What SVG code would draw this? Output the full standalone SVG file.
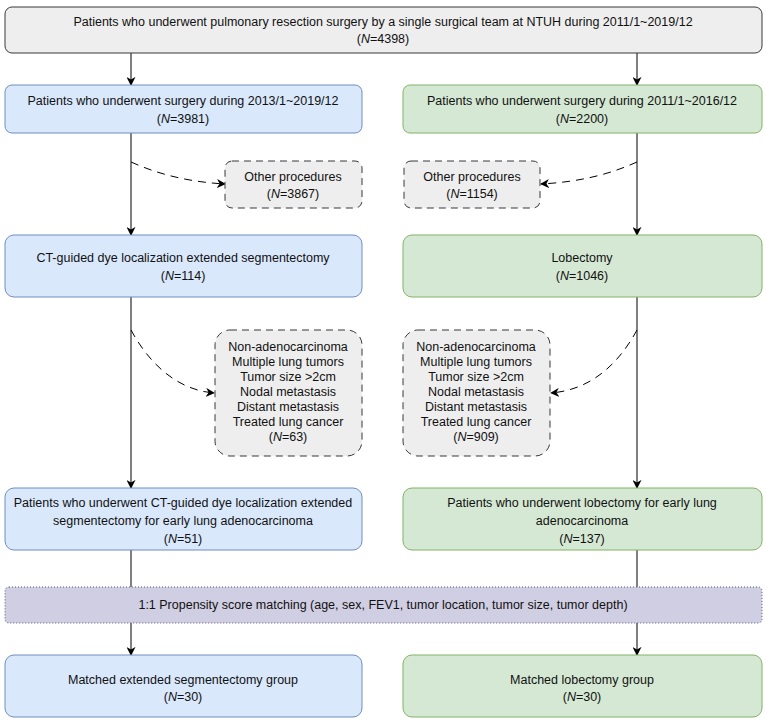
<svg xmlns="http://www.w3.org/2000/svg" width="766" height="722" viewBox="0 0 766 722">
<defs>
<marker id="arr" viewBox="0 0 10 10" refX="9" refY="5" markerWidth="9" markerHeight="9" markerUnits="userSpaceOnUse" orient="auto">
<path d="M0,0 L10,5 L0,10 L3,5 z" fill="#000"/>
</marker>
<style>
text{font-family:"Liberation Sans",Arial,sans-serif;font-size:12.5px;fill:#111;text-anchor:middle}
.i{font-style:italic}
.gray{fill:#eeeeee;stroke:#36393d;stroke-width:1}
.dash{fill:#eeeeee;stroke:#36393d;stroke-width:1;stroke-dasharray:7,5}
.blue{fill:#dae8fc;stroke:#6c8ebf;stroke-width:1}
.green{fill:#d5e8d4;stroke:#82b366;stroke-width:1}
.purple{fill:#d0cee2;stroke:#56517e;stroke-width:1;stroke-dasharray:1,2}
.ln{fill:none;stroke:#000;stroke-width:1}
.dl{fill:none;stroke:#000;stroke-width:1;stroke-dasharray:8,6}
</style>
</defs>
<rect width="766" height="722" fill="#fff"/>
<g id="connectors">
<line class="ln" x1="131" y1="53" x2="131" y2="85" marker-end="url(#arr)"/>
<line class="ln" x1="637" y1="53" x2="637" y2="85" marker-end="url(#arr)"/>
<line class="ln" x1="131" y1="133" x2="131" y2="235" marker-end="url(#arr)"/>
<line class="ln" x1="637" y1="133" x2="637" y2="235" marker-end="url(#arr)"/>
<line class="ln" x1="131" y1="297" x2="131" y2="488" marker-end="url(#arr)"/>
<line class="ln" x1="637" y1="297" x2="637" y2="488" marker-end="url(#arr)"/>
<line class="ln" x1="131" y1="550" x2="131" y2="587"/>
<line class="ln" x1="637" y1="550" x2="637" y2="587"/>
<line class="ln" x1="131" y1="623" x2="131" y2="655" marker-end="url(#arr)"/>
<line class="ln" x1="637" y1="623" x2="637" y2="655" marker-end="url(#arr)"/>
<path class="dl" d="M131,162 C160,175 190,182 225,184" marker-end="url(#arr)"/>
<path class="dl" d="M637,162 C608,175 578,182 541,184" marker-end="url(#arr)"/>
<path class="dl" d="M131,330 C150,365 178,390 214,393" marker-end="url(#arr)"/>
<path class="dl" d="M637,330 C618,365 590,390 551,393" marker-end="url(#arr)"/>
</g>
<g id="n_top">
<rect class="gray" x="5" y="7" width="757" height="46" rx="7"/>
<text x="383" y="25.5">Patients who underwent pulmonary resection surgery by a single surgical team at NTUH during 2011/1~2019/12</text>
<text x="383" y="43">(<tspan class="i">N</tspan>=4398)</text>
</g>
<g id="n_blue1">
<rect class="blue" x="5" y="85" width="357" height="48" rx="7"/>
<text x="183" y="105">Patients who underwent surgery during 2013/1~2019/12</text>
<text x="183" y="123">(<tspan class="i">N</tspan>=3981)</text>
</g>
<g id="n_green1">
<rect class="green" x="403" y="85" width="359" height="48" rx="7"/>
<text x="582" y="105">Patients who underwent surgery during 2011/1~2016/12</text>
<text x="582" y="123">(<tspan class="i">N</tspan>=2200)</text>
</g>
<g id="n_other_l">
<rect class="dash" x="225" y="161" width="137" height="47" rx="7"/>
<text x="293" y="181">Other procedures</text>
<text x="293" y="197.5">(<tspan class="i">N</tspan>=3867)</text>
</g>
<g id="n_other_r">
<rect class="dash" x="404" y="161" width="136" height="47" rx="7"/>
<text x="472" y="181">Other procedures</text>
<text x="472" y="197.5">(<tspan class="i">N</tspan>=1154)</text>
</g>
<g id="n_blue2">
<rect class="blue" x="5" y="235" width="357" height="62" rx="9"/>
<text x="183" y="262">CT-guided dye localization extended segmentectomy</text>
<text x="183" y="279.5">(<tspan class="i">N</tspan>=114)</text>
</g>
<g id="n_green2">
<rect class="green" x="403" y="235" width="359" height="62" rx="9"/>
<text x="582" y="262">Lobectomy</text>
<text x="582" y="279.5">(<tspan class="i">N</tspan>=1046)</text>
</g>
<g id="n_excl_l">
<rect class="dash" x="215" y="330" width="147" height="126" rx="15"/>
<text x="288" y="351">Non-adenocarcinoma</text>
<text x="288" y="366">Multiple lung tumors</text>
<text x="288" y="381">Tumor size &gt;2cm</text>
<text x="288" y="396">Nodal metastasis</text>
<text x="288" y="411">Distant metastasis</text>
<text x="288" y="426">Treated lung cancer</text>
<text x="288" y="441">(<tspan class="i">N</tspan>=63)</text>
</g>
<g id="n_excl_r">
<rect class="dash" x="403" y="330" width="147" height="126" rx="15"/>
<text x="476" y="351">Non-adenocarcinoma</text>
<text x="476" y="366">Multiple lung tumors</text>
<text x="476" y="381">Tumor size &gt;2cm</text>
<text x="476" y="396">Nodal metastasis</text>
<text x="476" y="411">Distant metastasis</text>
<text x="476" y="426">Treated lung cancer</text>
<text x="476" y="441">(<tspan class="i">N</tspan>=909)</text>
</g>
<g id="n_blue3">
<rect class="blue" x="5" y="488" width="357" height="62" rx="9"/>
<text x="183" y="506.5">Patients who underwent CT-guided dye localization extended</text>
<text x="183" y="524.5">segmentectomy for early lung adenocarcinoma</text>
<text x="183" y="542.5">(<tspan class="i">N</tspan>=51)</text>
</g>
<g id="n_green3">
<rect class="green" x="403" y="488" width="359" height="62" rx="9"/>
<text x="582" y="506.5">Patients who underwent lobectomy for early lung</text>
<text x="582" y="524.5">adenocarcinoma</text>
<text x="582" y="542.5">(<tspan class="i">N</tspan>=137)</text>
</g>
<g id="n_psm">
<rect class="purple" x="5" y="587" width="757" height="36" rx="4"/>
<text x="383" y="609">1:1 Propensity score matching (age, sex, FEV1, tumor location, tumor size, tumor depth)</text>
</g>
<g id="n_blue4">
<rect class="blue" x="5" y="655" width="357" height="62" rx="9"/>
<text x="183" y="684">Matched extended segmentectomy group</text>
<text x="183" y="701">(<tspan class="i">N</tspan>=30)</text>
</g>
<g id="n_green4">
<rect class="green" x="403" y="655" width="359" height="62" rx="9"/>
<text x="582" y="684">Matched lobectomy group</text>
<text x="582" y="701">(<tspan class="i">N</tspan>=30)</text>
</g>
</svg>
